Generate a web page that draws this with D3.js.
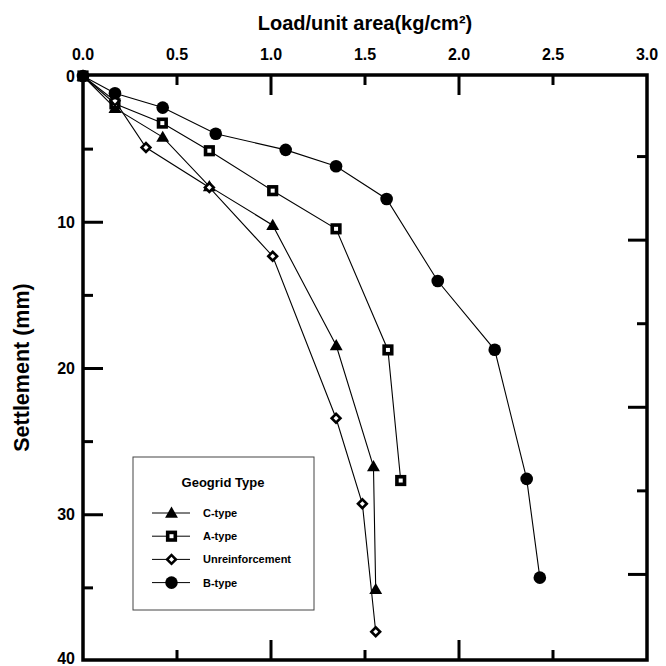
<!DOCTYPE html>
<html>
<head>
<meta charset="utf-8">
<script src="https://cdn.jsdelivr.net/npm/d3@7/dist/d3.min.js"></script>
<style>
  html, body { margin: 0; padding: 0; background: #fff; }
  svg { display: block; }
  text { font-family: "Liberation Sans", Arial, sans-serif; font-weight: bold; fill: #000; }
</style>
</head>
<body>
<svg id="chart" width="666" height="666"></svg>
<script>
// Load–settlement readings (load in kg/cm², settlement in mm)
const cLoad   = [0, 0.17, 0.424, 0.672, 1.009, 1.347, 1.545, 1.557];
const cSettle = [0, 2.2, 4.18, 7.55, 10.2, 18.43, 26.7, 35.1];

const aLoad   = [0, 0.17, 0.422, 0.672, 1.009, 1.346, 1.622, 1.69];
const aSettle = [0, 1.9, 3.22, 5.11, 7.84, 10.45, 18.73, 27.66];

const uLoad   = [0, 0.17, 0.335, 0.672, 1.009, 1.346, 1.486, 1.557];
const uSettle = [0, 1.7, 4.89, 7.62, 12.32, 23.4, 29.25, 38.0];

const bLoad   = [0, 0.17, 0.424, 0.706, 1.078, 1.346, 1.615, 1.887, 2.19, 2.36, 2.43];
const bSettle = [0, 1.18, 2.16, 3.95, 5.05, 6.17, 8.41, 14.02, 18.72, 27.55, 34.3];

const seriesNames = ["C-type", "A-type", "Unreinforcement", "B-type"];
const seriesSymbols = ["triangle", "square", "diamond", "circle"];

const xTickLabels = ["0.0", "0.5", "1.0", "1.5", "2.0", "2.5", "3.0"];
const yTickLabels = ["0", "10", "20", "30", "40"];

const xTitle = "Load/unit area(kg/cm\u00B2)";
const yTitle = "Settlement (mm)";
const legendTitle = "Geogrid Type";

const series = [
  { name: seriesNames[0], symbol: seriesSymbols[0], load: cLoad, settle: cSettle },
  { name: seriesNames[1], symbol: seriesSymbols[1], load: aLoad, settle: aSettle },
  { name: seriesNames[2], symbol: seriesSymbols[2], load: uLoad, settle: uSettle },
  { name: seriesNames[3], symbol: seriesSymbols[3], load: bLoad, settle: bSettle }
];

const svg = d3.select("#chart");
const pLeft = 83, pRight = 647, pTop = 75, pBottom = 660;

const x = d3.scaleLinear().domain([0, 3]).range([pLeft, pRight]);
const y = d3.scaleLinear().domain([0, 40]).range([pTop + 1, pBottom + 1]);
// unlabelled right-hand scale, seven divisions
const yRight = d3.scaleLinear().domain([0, 7]).range([pTop - 2, pBottom - 2]);

// axis titles
svg.append("text")
  .attr("x", (pLeft + pRight) / 2).attr("y", 29.5)
  .attr("text-anchor", "middle").style("font-size", "20px")
  .text(xTitle);

svg.append("text")
  .attr("transform", `translate(29,${(pTop + pBottom) / 2}) rotate(-90)`)
  .attr("text-anchor", "middle").style("font-size", "21.5px")
  .text(yTitle);

// tick labels
svg.selectAll(".xlab").data(xTickLabels).enter().append("text")
  .attr("x", d => x(+d)).attr("y", 59.5)
  .attr("text-anchor", "middle").style("font-size", "16px")
  .text(d => d);

svg.selectAll(".ylab").data(yTickLabels).enter().append("text")
  .attr("x", 75).attr("y", d => Math.min(y(+d) + 5.5, 664))
  .attr("text-anchor", "end").style("font-size", "16px")
  .text(d => d);

// ticks (pointing inward)
const tickG = svg.append("g").attr("stroke", "#000").attr("stroke-width", 3);
const xMinor = [0.5, 1.5, 2.5], xMajor = [1, 2];
const yMinor = [5, 15, 25, 35], yMajor = [10, 20, 30];

xMajor.concat(xMinor).forEach(v => {
  const len = xMajor.includes(v) ? 20 : 10;
  tickG.append("line").attr("x1", x(v)).attr("x2", x(v)).attr("y1", pTop).attr("y2", pTop + len);
  tickG.append("line").attr("x1", x(v)).attr("x2", x(v)).attr("y1", pBottom).attr("y2", pBottom - len);
});
yMajor.concat(yMinor).forEach(v => {
  const len = yMajor.includes(v) ? 20 : 10;
  tickG.append("line").attr("x1", pLeft).attr("x2", pLeft + len).attr("y1", y(v)).attr("y2", y(v));
});
d3.range(1, 7).forEach(k => {
  const len = k % 2 === 0 ? 19 : 10;
  tickG.append("line").attr("x1", pRight).attr("x2", pRight - len)
    .attr("y1", yRight(k)).attr("y2", yRight(k));
});

// frame
svg.append("rect")
  .attr("x", pLeft).attr("y", pTop).attr("width", pRight - pLeft).attr("height", pBottom - pTop)
  .attr("fill", "none").attr("stroke", "#000").attr("stroke-width", 3.5);

// marker drawing
function drawMarker(g, symbol, cx, cy) {
  if (symbol === "circle") {
    g.append("circle").attr("cx", cx).attr("cy", cy).attr("r", 6.3).attr("fill", "#000");
  } else if (symbol === "square") {
    g.append("rect").attr("x", cx - 3.8).attr("y", cy - 3.8).attr("width", 7.6).attr("height", 7.6)
      .attr("fill", "#fff").attr("stroke", "#000").attr("stroke-width", 3.6);
  } else if (symbol === "triangle") {
    g.append("path").attr("transform", `translate(${cx},${cy + 1})`)
      .attr("d", d3.symbol(d3.symbolTriangle, 72)()).attr("fill", "#000");
  } else if (symbol === "diamond") {
    g.append("path").attr("transform", `translate(${cx},${cy}) rotate(45)`)
      .attr("d", "M-3.1,-3.1H3.1V3.1H-3.1Z")
      .attr("fill", "#fff").attr("stroke", "#000").attr("stroke-width", 2.6);
  }
}

const line = d3.line().x(d => x(d[0])).y(d => y(d[1]));

// lines
series.forEach(s => {
  const pts = s.load.map((v, i) => [v, s.settle[i]]);
  svg.append("path").datum(pts).attr("d", line)
    .attr("fill", "none").attr("stroke", "#000").attr("stroke-width", 1.1);
});
// markers
series.forEach(s => {
  const g = svg.append("g");
  s.load.forEach((v, i) => drawMarker(g, s.symbol, x(v), y(s.settle[i])));
});

// legend
const lg = svg.append("g");
lg.append("rect").attr("x", 133).attr("y", 457).attr("width", 181).attr("height", 153)
  .attr("fill", "#fff").attr("stroke", "#444").attr("stroke-width", 1);
lg.append("text").attr("x", 223).attr("y", 487).attr("text-anchor", "middle")
  .style("font-size", "13px").text(legendTitle);
series.forEach((s, i) => {
  const ly = 513 + i * 23.2;
  lg.append("line").attr("x1", 152).attr("x2", 190).attr("y1", ly).attr("y2", ly)
    .attr("stroke", "#000").attr("stroke-width", 1);
  drawMarker(lg, s.symbol, 171.5, ly);
  lg.append("text").attr("x", 203).attr("y", ly + 4).style("font-size", "11px").text(s.name);
});
</script>
</body>
</html>
